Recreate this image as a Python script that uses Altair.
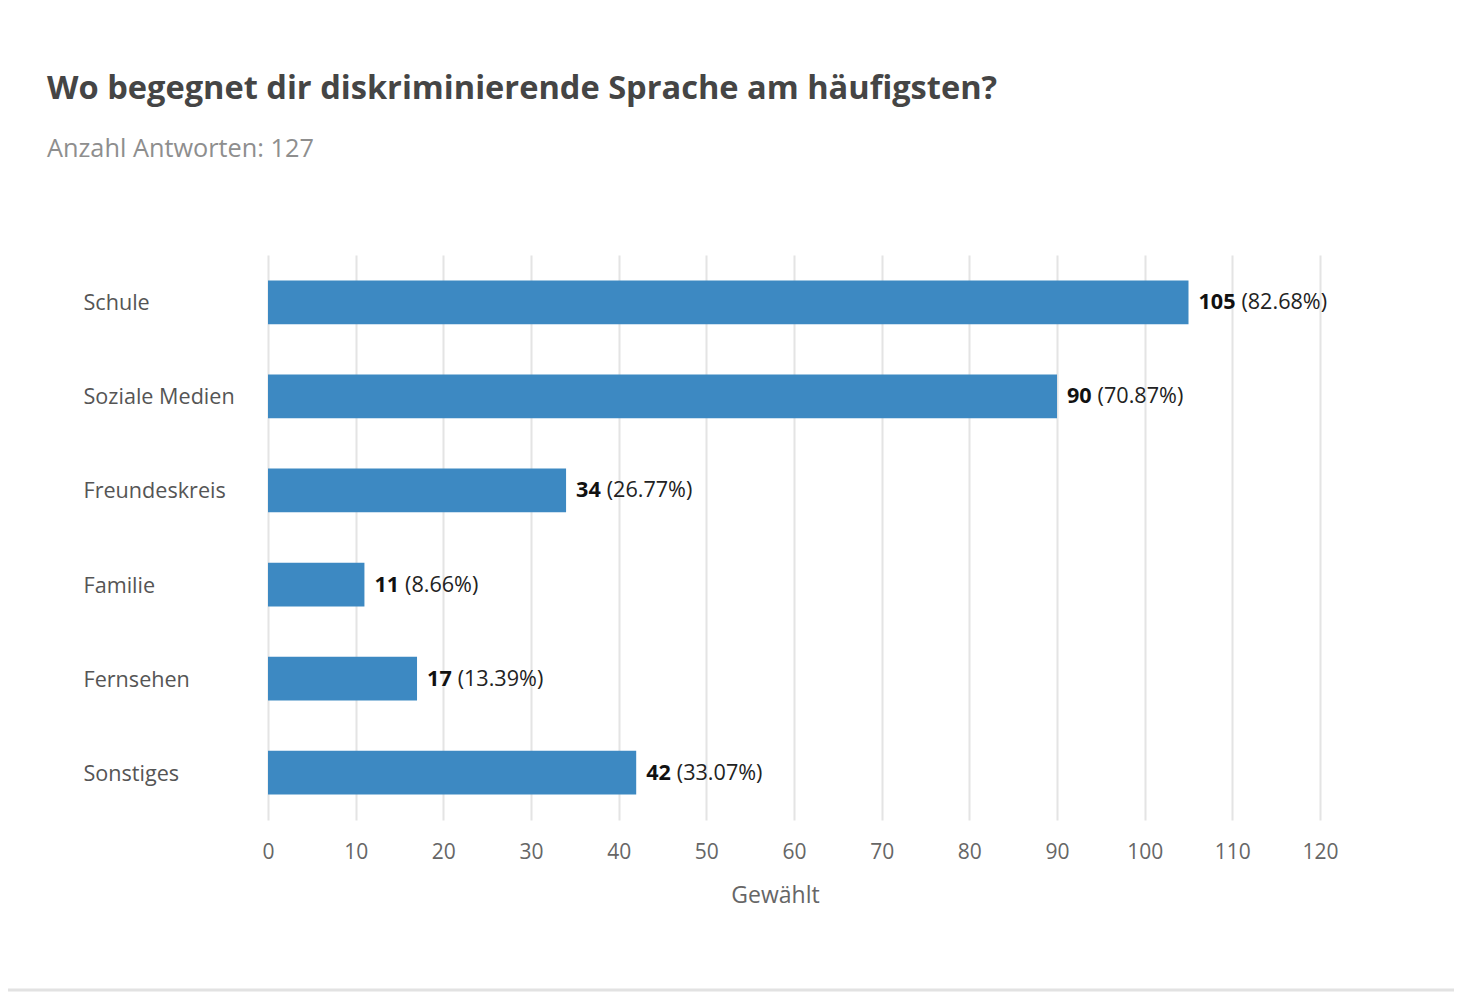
import altair as alt
import pandas as pd

categories = ["Schule", "Soziale Medien", "Freundeskreis", "Familie", "Fernsehen", "Sonstiges"]
counts = [105, 90, 34, 11, 17, 42]
percents = ["(82.68%)", "(70.87%)", "(26.77%)", "(8.66%)", "(13.39%)", "(33.07%)"]
x_ticks = [0, 10, 20, 30, 40, 50, 60, 70, 80, 90, 100, 110, 120]

title_text = "Wo begegnet dir diskriminierende Sprache am häufigsten?"
subtitle_text = "Anzahl Antworten: 127"

df = pd.DataFrame({"cat": categories, "count": counts, "pct": percents})

FONT = "Open Sans"

y_scale = alt.Scale(paddingInner=0.535, paddingOuter=0.27)
x_scale = alt.Scale(domain=[0, 120], nice=False)

y_enc = alt.Y("cat:N", sort=categories, title=None, scale=y_scale,
              axis=alt.Axis(labelAlign="left", labelPadding=185, ticks=False, domain=False,
                            labelFont=FONT, labelFontSize=21.6, labelColor="#555555",
                            labelBaseline="middle", labelOffset=2, grid=False))
x_enc = alt.X("count:Q", title="Gewählt", scale=x_scale,
              axis=alt.Axis(values=x_ticks, grid=True, gridColor="#e4e4e4", gridWidth=2,
                            domain=False, ticks=False, labelPadding=21, labelFlush=False,
                            labelFont=FONT, labelFontSize=21, labelColor="#666666",
                            titleFont=FONT, titleFontSize=23, titleFontWeight="normal",
                            titleColor="#666666", titleX=507, titleY=82,
                            titleBaseline="alphabetic", titleAnchor="middle"))

base = alt.Chart(df)

bars = base.mark_bar(color="#3d89c2", cornerRadius=0).encode(x=x_enc, y=y_enc)

x_plain = alt.X("count:Q", scale=x_scale)
y_plain = alt.Y("cat:N", sort=categories, scale=y_scale)

num_labels = base.mark_text(align="left", baseline="middle", dx=10, dy=1, font=FONT,
                            fontSize=21.6, fontWeight="bold", color="#111111").encode(
    x=x_plain, y=y_plain, text="count:Q")

pct_layers = []
for nd in (1, 2, 3):
    pct_layers.append(
        base.transform_filter(f"length(toString(datum.count)) == {nd}")
        .mark_text(align="left", baseline="middle", font=FONT, fontSize=21.6,
                   color="#222222", dx=16 + 12.3 * nd, dy=1)
        .encode(x=x_plain, y=y_plain, text="pct:N")
    )

title_df = pd.DataFrame({"t": [title_text]})
sub_df = pd.DataFrame({"t": [subtitle_text]})

title_mark = alt.Chart(title_df).mark_text(align="left", baseline="alphabetic", font=FONT,
                                           fontSize=32.6, fontWeight="bold", color="#454545").encode(
    text="t:N", x=alt.value(-221), y=alt.value(-156))
sub_mark = alt.Chart(sub_df).mark_text(align="left", baseline="alphabetic", font=FONT,
                                       fontSize=25.3, color="#8e8e8e").encode(
    text="t:N", x=alt.value(-221), y=alt.value(-98))

bottom_line = alt.Chart(title_df).mark_rule(color="#e2e2e2", strokeWidth=3).encode(
    x=alt.value(-260), x2=alt.value(1186), y=alt.value(735))

chart = alt.layer(bars, num_labels, *pct_layers, title_mark, sub_mark, bottom_line).properties(
    width=1052, height=565,
    autosize=alt.AutoSizeParams(type="none"),
    padding={"left": 260, "top": 247, "right": 134, "bottom": 172},
    view=alt.ViewBackground(stroke="transparent", strokeWidth=0),
).configure_view(stroke="transparent", strokeWidth=0).configure(background="white")

chart.save("out.html", embed_options={"renderer": "svg", "actions": False})
